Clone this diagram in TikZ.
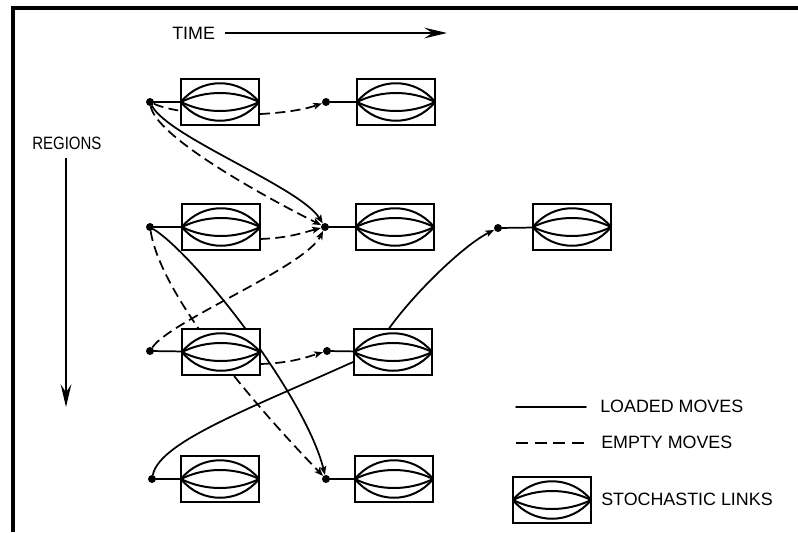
\documentclass[tikz,border=0pt]{standalone}
\usepackage{fontspec}
\setmainfont{Liberation Sans}
\newfontfamily\narrowsans[FakeStretch=0.84]{Liberation Sans}
\usetikzlibrary{arrows.meta,calc}
\pgfdeclarelayer{back}
\pgfsetlayers{back,main}

\tikzset{
  ink/.style={line width=1.3pt, black, line cap=round},
  loaded/.style={ink},
  emptymove/.style={ink, line cap=butt, dash pattern=on 7.5pt off 4pt},
  legenddash/.style={ink, line cap=butt, dash pattern=on 9pt off 5pt},
  arr/.style={-{Stealth[length=6.5pt,width=5pt,inset=1.5pt]}},
  bigarrow/.style={line width=1.2pt, -{Stealth[length=17pt,width=8pt,inset=6pt]}},
  linkbox/.style={draw, line width=1.1pt, fill=white, minimum width=58.5pt,
                  minimum height=34.5pt, inner sep=0pt, outer sep=0pt},
  stop/.style={circle, fill=black, inner sep=0pt, minimum size=6pt},
  txt/.style={anchor=west, inner sep=0pt, font=\fontsize{13.4pt}{16pt}\selectfont},
  lensline/.style={line width=1.5pt},
}

% the four arcs of a stochastic link, drawn inside a box node
\newcommand\lensarcs[1]{%
  \draw[lensline] (#1.west) .. controls +(20,-25) and +(-20,-25) .. (#1.east);
  \draw[lensline] (#1.west) .. controls +(24,-12) and +(-24,-12) .. (#1.east);
  \draw[lensline] (#1.west) .. controls +(24,12) and +(-24,12) .. (#1.east);
  \draw[lensline] (#1.west) .. controls +(20,25) and +(-20,25) .. (#1.east);}

\begin{document}
\begin{tikzpicture}[x=0.75pt, y=-0.75pt]
\useasboundingbox (0,0) rectangle (798,532);

% frame
\draw[line width=3pt, line join=miter] (13,532) -- (13,8) -- (798,8);

% axis labels
\node[txt] (time) at (172,33) {TIME};
\coordinate (timeend) at (447,33);
\draw[bigarrow] (225,33) -- (timeend);

\node[txt, font=\fontsize{13.4pt}{16pt}\narrowsans] (regions) at (32,143) {REGIONS};
\coordinate (regionsend) at (66,407);
\draw[bigarrow] (66,158) -- (regionsend);

% stochastic link boxes
\foreach \n/\x/\y in {B11/220/102, B21/221/227, B31/221/352, B41/220/479,
                      B12/396/102, B22/395/227, B32/393/352, B42/394/479,
                      B23/572/227}
  {\node[linkbox] (\n) at (\x,\y) {}; \lensarcs{\n}}

% region/time stops
\foreach \n/\x/\y in {d11/150/102, d21/150/227, d31/150/351, d41/152/479,
                      d12/326/102, d22/325/227, d32/327/351, d42/326/479,
                      d23/498/228}
  \node[stop] (\n) at (\x,\y) {};

% stop to its link box
\foreach \a/\b in {d11/B11, d21/B21, d31/B31, d41/B41,
                   d12/B12, d22/B22, d32/B32, d42/B42, d23/B23}
  \draw[loaded] (\a) -- (\b);

% moves between regions
\begin{pgfonlayer}{back}
\draw[emptymove,arr] (d11) .. controls (185,118) and (280,118) .. (d12);
\draw[loaded,arr] (d11) .. controls (168,137) and (300,187) .. (d22);
\draw[emptymove,arr] (d11) .. controls (156,137) and (265,197) .. (d22);
\draw[emptymove,arr] ([yshift=-9pt]B21.east) .. controls (290,238) and (305,232) .. (d22);
\draw[emptymove,arr] (d31) .. controls (170,321) and (305,267) .. (d22);
\draw[loaded,arr] (d21) .. controls (195,255) and (305,395) .. (d42);
\draw[emptymove,arr] (d21) .. controls (160,290) and (240,390) .. (d42);
\draw[emptymove,arr] ([yshift=-9pt]B31.east) .. controls (292,363) and (307,357) .. (d32);
\draw[loaded,arr] (d41) .. controls (160,440) and (260,405) .. (375,352)
                  .. controls (390,317) and (458,248) .. (d23);
\end{pgfonlayer}

% legend
\coordinate (la) at (516,407); \coordinate (lb) at (586,407);
\coordinate (ea) at (516,443); \coordinate (eb) at (586,443);
\draw[loaded] (la) -- (lb);
\draw[legenddash] (ea) -- (eb);
\node[txt] (loadedtxt) at (600,406) {LOADED MOVES};
\node[txt] (emptytxt) at (601,442) {EMPTY MOVES};
\node[linkbox] (LB) at (552,500) {}; \lensarcs{LB}
\node[txt] (linktxt) at (601,499) {STOCHASTIC LINKS};
\end{tikzpicture}
\end{document}
